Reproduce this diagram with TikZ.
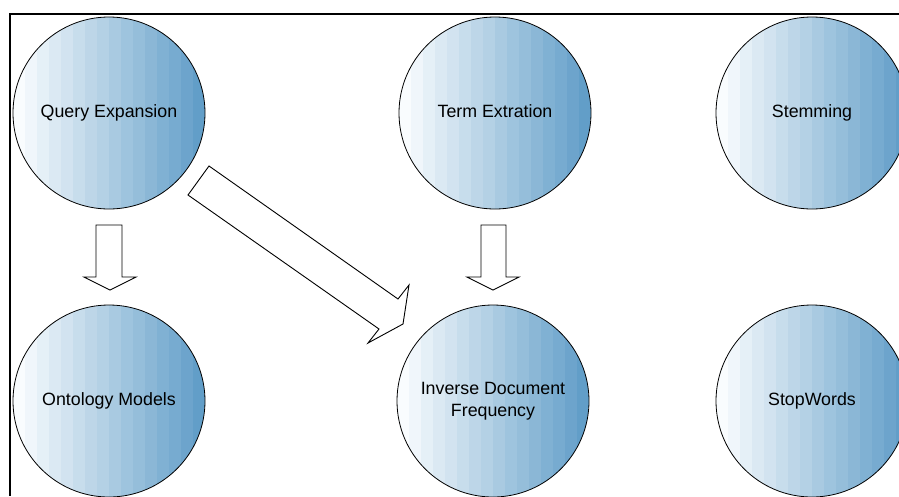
\documentclass[tikz,border=0pt]{standalone}
\usepackage{fontspec}
\setmainfont{Liberation Sans}
\definecolor{bandA}{RGB}{249,252,254}
\definecolor{bandB}{RGB}{98,158,200}
\tikzset{
  ball/.style={circle, draw=black, line width=0.8pt, minimum size=192pt,
    inner sep=0pt, align=center, font=\fontsize{17.8}{22}\selectfont},
  blockarrow/.style={draw=black, line width=0.9pt, fill=white, line join=miter},
  frame/.style={draw=black, line width=2pt}
}
% banded blue sphere: name, x, y, label
\newcommand\bandball[4]{%
  \begin{scope}
    \clip (#2,#3) circle[radius=96pt];
    \foreach \i in {0,...,15} {
      \pgfmathtruncatemacro\mix{\i*100/15}
      \fill[bandB!\mix!bandA] ({#2-96+12*\i},{#3-100}) rectangle ({#2-96+12*(\i+1)+0.3},{#3+100});
    }
  \end{scope}
  \node[ball] (#1) at (#2,#3) {#4};
}
\begin{document}
\begin{tikzpicture}[x=1pt,y=-1pt]
  \useasboundingbox (0,0) rectangle (899,496);
  \begin{scope}
    \clip (0,0) rectangle (899,496);
    % outer frame (top and left edges)
    \draw[frame] (899,14) -- (10,14) -- (10,496);

    \bandball{qe}{109}{113}{\strut Query Expansion}
    \bandball{te}{495}{113}{\strut Term Extration}
    \bandball{st}{812}{113}{\strut Stemming}
    \bandball{om}{109}{401}{\strut Ontology Models}
    \bandball{idf}{493}{401}{\strut Inverse Document\\\strut Frequency}
    \bandball{sw}{812}{401}{\strut StopWords}

    % block arrows
    \draw[blockarrow] (96,225) -- (122,225) -- (122,277) -- (136,277) -- (110,290)
      -- (84,277) -- (96,277) -- cycle;
    \draw[blockarrow] (481,225) -- (506,225) -- (506,277) -- (519,277) -- (493,290)
      -- (467,277) -- (481,277) -- cycle;
    \draw[blockarrow] (209,166) -- (398,299) -- (409,285) -- (403,324) -- (368,343)
      -- (379,329) -- (188,195) -- cycle;
  \end{scope}
\end{tikzpicture}
\end{document}
